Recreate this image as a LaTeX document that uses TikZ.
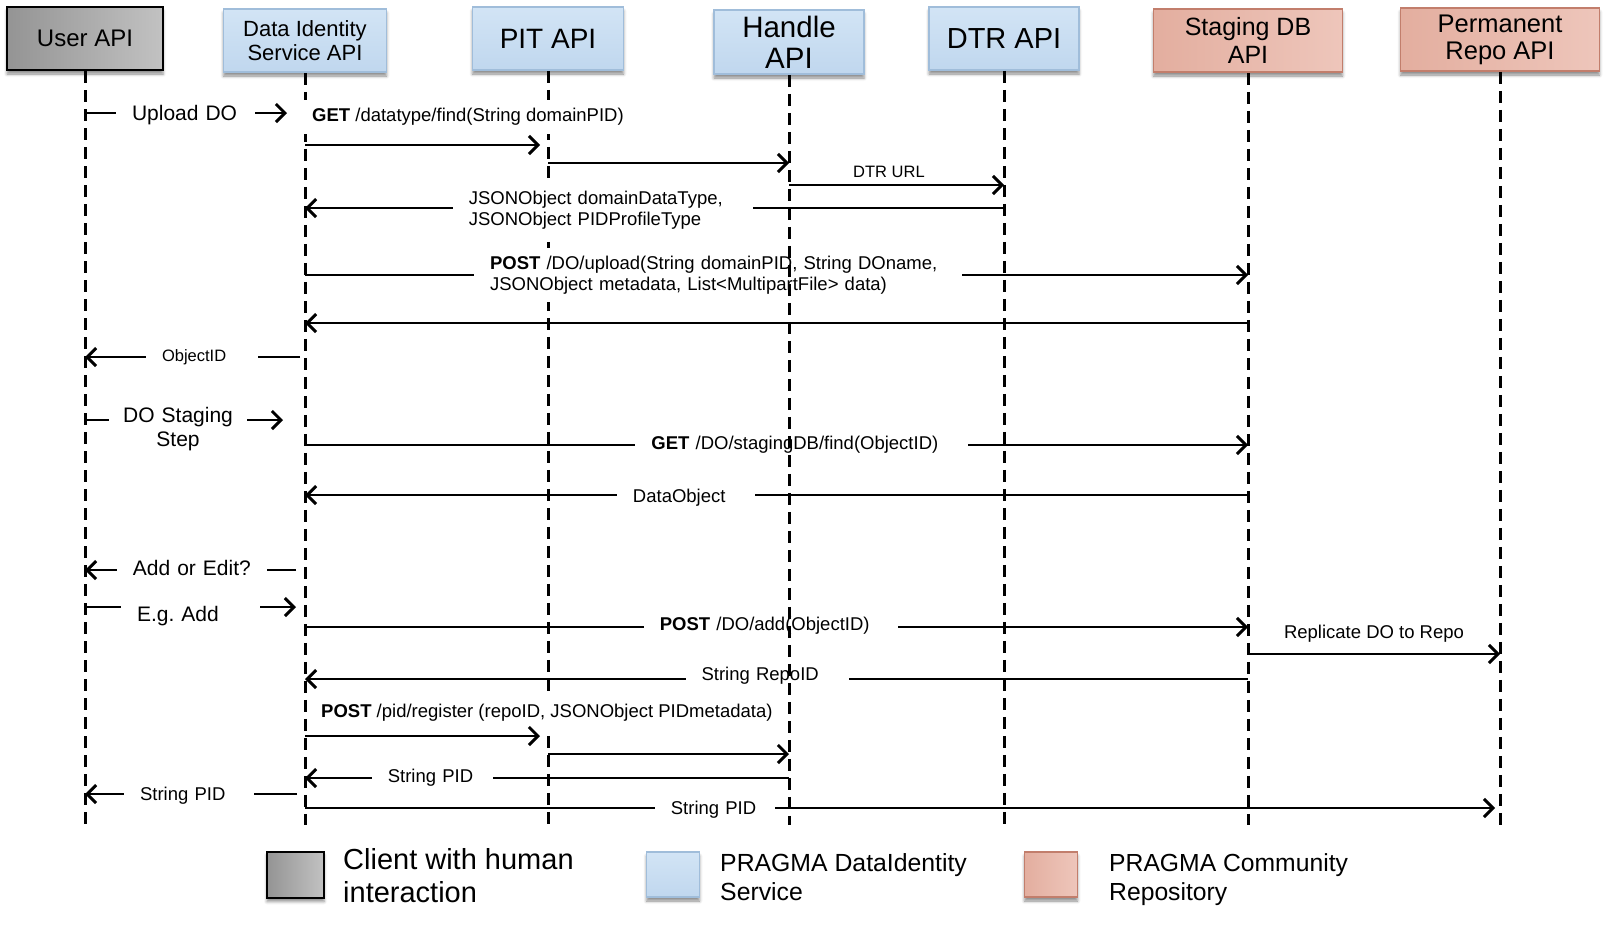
\documentclass[tikz,border=0pt]{standalone}
\usepackage{fontspec}
\setmainfont{Liberation Sans}
\usepackage{xcolor}
\usepackage{tikz}
\usetikzlibrary{arrows.meta,shadows.blur}

\definecolor{bluefill}{HTML}{C0D7EE}
\definecolor{bluetop}{HTML}{D2E4F5}
\definecolor{blueline}{HTML}{A0BDDA}
\definecolor{redfill}{HTML}{E3AE9F}
\definecolor{redtop}{HTML}{EEC6BB}
\definecolor{redline}{HTML}{C27E6C}

\begin{document}
\begin{tikzpicture}[x=1pt,y=-1pt,
  every node/.style={inner sep=0pt},
  box/.style={minimum height=63pt, align=center,
    blur shadow={shadow xshift=0pt, shadow yshift=-4pt, shadow blur radius=3pt, shadow opacity=45}},
  userbox/.style={box, draw=black, line width=2pt, left color=black!42, right color=black!24},
  bluebox/.style={box, draw=blueline, line width=1.5pt, top color=bluetop, bottom color=bluefill},
  redbox/.style={box, draw=redline, line width=1.5pt, left color=redfill, right color=redtop},
  lifeline/.style={line width=3pt, dash pattern=on 12pt off 7pt},
  msg/.style={line width=2pt, -{Straight Barb[length=9pt,width=18pt,line width=3pt]}},
  lbl/.style={fill=white, inner xsep=16pt, inner ysep=8pt, align=left, font=\fontsize{18.5}{21}\selectfont},
  big/.style={font=\fontsize{21}{24}\selectfont},
  small/.style={font=\fontsize{16.5}{19}\selectfont}]

\useasboundingbox (0,0) rectangle (1608,946);

\node[userbox, minimum width=156pt, font=\fontsize{24}{27}\selectfont] (user) at (85,38.5) {User API};
\node[bluebox, minimum width=163pt, font=\fontsize{22}{24}\selectfont] (dis) at (305,40.5) {Data Identity\\Service API};
\node[bluebox, minimum width=151pt, font=\fontsize{28}{31}\selectfont] (pit) at (548,38.5) {PIT API};
\node[bluebox, minimum width=150pt, minimum height=64pt, font=\fontsize{29.5}{31}\selectfont] (handle) at (789,42) {Handle\\API};
\node[bluebox, minimum width=150pt, font=\fontsize{29}{31}\selectfont] (dtr) at (1004,38.5) {DTR API};
\node[redbox, minimum width=189pt, font=\fontsize{25}{28}\selectfont] (staging) at (1248,40.5) {Staging DB\\API};
\node[redbox, minimum width=199pt, font=\fontsize{25.5}{27}\selectfont] (perm) at (1500,39.5) {Permanent\\Repo API};

\foreach \n in {user,dis,pit} {
  \draw[lifeline] (\n.south) -- (\n.south |- 0,825);
}

\draw[msg, shorten >=18pt] (user |- 0,113) -- (dis |- 0,113)
  node[lbl, big, text width=107pt, pos=0.457, yshift=-2pt] (upload) {Upload DO};

\node[lbl, anchor=west] (getlbl) at (296,117) {\textbf{GET} /datatype/find(String domainPID)};
\draw[msg, shorten >=8pt] (dis |- 0,145) -- (pit |- 0,145);
\draw[msg] (pit |- 0,163) -- (handle |- 0,163);
\draw[msg] (handle |- 0,185) -- (dtr |- 0,185)
  node[small, pos=0.465, above=6pt] (dtrurl) {DTR URL};
\draw[msg] (dtr |- 0,208) -- (dis |- 0,208)
  node[lbl, text width=268pt, pos=0.574, yshift=-2pt] (jsonlbl) {JSONObject domainDataType,\\JSONObject PIDProfileType};

\draw[msg] (dis |- 0,275) -- (staging |- 0,275)
  node[lbl, text width=456pt, pos=0.438] (uploadlbl) {\textbf{POST} /DO/upload(String domainPID, String DOname,\\JSONObject metadata, List<MultipartFile> data)};
\draw[msg] (staging |- 0,323) -- (dis |- 0,323);
\draw[msg, shorten <=5pt] (dis |- 0,357) -- (user |- 0,357)
  node[lbl, small, text width=80pt, pos=0.468] (objid) {ObjectID};

\draw[msg, shorten >=22pt] (user |- 0,420) -- (dis |- 0,420)
  node[lbl, big, align=center, inner xsep=12pt, text width=114pt, pos=0.423, yshift=-9pt] (stagestep) {DO Staging\\Step};
\draw[msg] (dis |- 0,445) -- (staging |- 0,445)
  node[lbl, text width=301pt, pos=0.527] (findlbl) {\textbf{GET} /DO/stagingDB/find(ObjectID)};
\draw[msg] (staging |- 0,495) -- (dis |- 0,495)
  node[lbl, text width=106pt, pos=0.596, yshift=-3pt] (dataobj) {DataObject};

\draw[msg, shorten <=9pt] (dis |- 0,570) -- (user |- 0,570)
  node[lbl, big, text width=118pt, pos=0.514, yshift=2pt] (addedit) {Add or Edit?};
\draw[msg, shorten >=9pt] (user |- 0,607) -- (dis |- 0,607)
  node[lbl, big, text width=107pt, pos=0.48, yshift=-9pt] (egadd) {E.g.\ Add};
\draw[msg] (dis |- 0,627) -- (staging |- 0,627)
  node[lbl, text width=222pt, pos=0.494, yshift=1pt] (addlbl) {\textbf{POST} /DO/add(ObjectID)};
\draw[msg] (staging |- 0,654) -- (perm |- 0,654)
  node[lbl, fill=none, inner sep=0pt, midway, above=11pt] (repl) {Replicate DO to Repo};
\draw[msg] (staging |- 0,679) -- (dis |- 0,679)
  node[lbl, text width=131pt, pos=0.51, yshift=3pt] (repoid) {String RepoID};

\node[lbl, anchor=west, inner xsep=10pt] (pidlbl) at (311,713) {\textbf{POST} /pid/register (repoID, JSONObject PIDmetadata)};
\draw[msg, shorten >=8pt] (dis |- 0,736) -- (pit |- 0,736);
\draw[msg] (pit |- 0,754) -- (handle |- 0,754);
\draw[msg] (handle |- 0,778) -- (dis |- 0,778)
  node[lbl, text width=89pt, pos=0.737] (pidone) {String PID};
\draw[msg, shorten <=8pt] (dis |- 0,794) -- (user |- 0,794)
  node[lbl, text width=98pt, pos=0.527, yshift=-2pt] (pidtwo) {String PID};
\draw[msg, shorten >=5pt] (dis |- 0,808) -- (perm |- 0,808)
  node[lbl, text width=88pt, pos=0.343, yshift=-2pt] (pidthree) {String PID};

\foreach \n in {handle,dtr,staging,perm} {
  \draw[lifeline] (\n.south) -- (\n.south |- 0,825);
}

\node[userbox, minimum width=57pt, minimum height=46pt] (keyuser) at (295.5,874.5) {};
\node[anchor=west, align=left, font=\fontsize{29}{33}\selectfont] (keyusertxt) at (343,875.5) {Client with human\\interaction};
\node[bluebox, minimum width=53pt, minimum height=45pt] (keyblue) at (673,874.5) {};
\node[anchor=west, align=left, font=\fontsize{24.8}{29}\selectfont] (keybluetxt) at (720,877.5) {PRAGMA DataIdentity\\Service};
\node[redbox, minimum width=53pt, minimum height=45pt] (keyred) at (1051,874.5) {};
\node[anchor=west, align=left, font=\fontsize{24.7}{29}\selectfont] (keyredtxt) at (1109,879.5) {PRAGMA Community\\Repository};

\end{tikzpicture}
\end{document}
